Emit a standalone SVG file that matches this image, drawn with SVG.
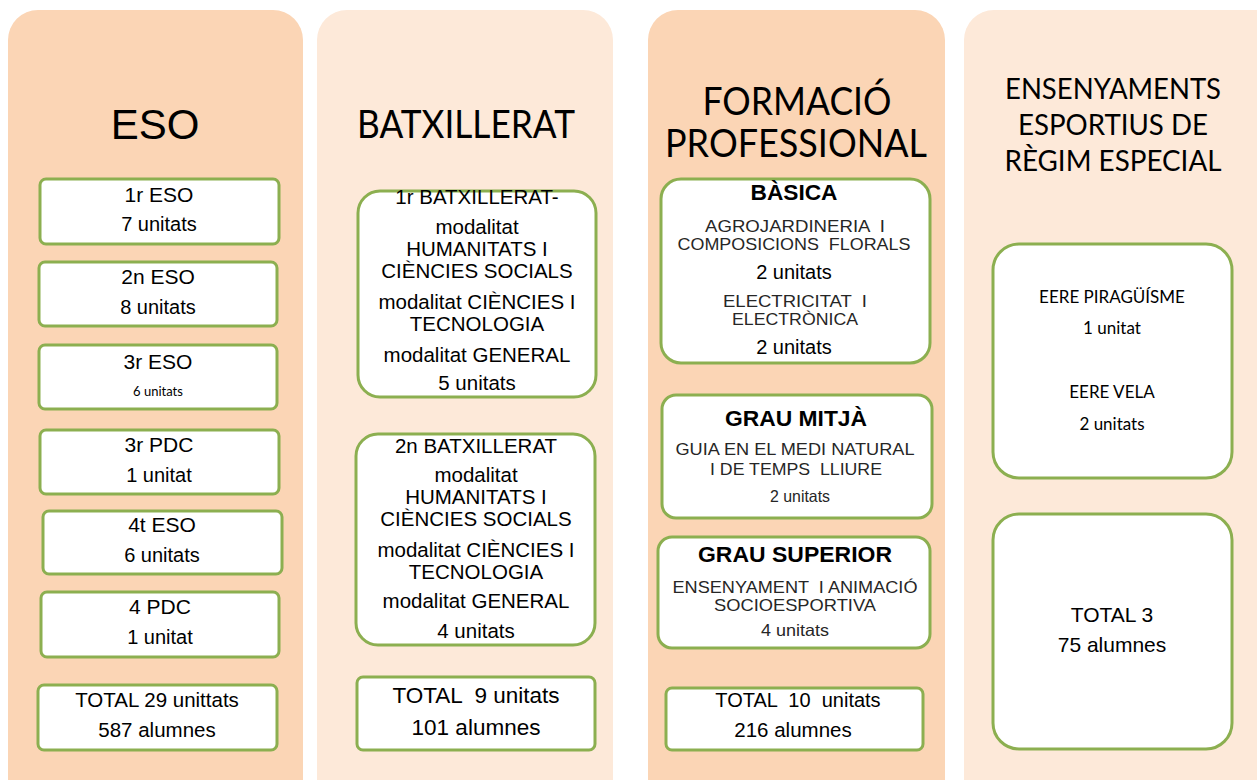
<svg xmlns="http://www.w3.org/2000/svg" width="1257" height="780" viewBox="0 0 1257 780">
<style>
.colA{fill:#FBD5B5}
.colB{fill:#FDE9D9}
.box{fill:#FFFFFF;stroke:#8CAF50;stroke-width:3}
.t{font-family:"Liberation Sans",Arial,sans-serif;fill:#000;text-anchor:middle}
.c{font-family:Lato,"Open Sans",sans-serif;fill:#000;text-anchor:middle}
.f20{font-size:20px}
.f21{font-size:21px}
.f22{font-size:22.5px}
.bx{font-size:20.5px}
.sm{font-size:16.5px;fill:#262626}
.b{font-weight:bold;font-size:22.5px}
</style>
<rect width="1257" height="780" fill="#FFFFFF"/>

<g id="col-eso">
<rect class="colA" x="8" y="10" width="295" height="800" rx="30"/>
<text class="t" x="155" y="139" font-size="42">ESO</text>
</g>
<g id="col-batx">
<rect class="colB" x="317" y="10" width="296" height="800" rx="30"/>
<text class="c" x="466" y="138" font-size="38" textLength="218" lengthAdjust="spacingAndGlyphs">BATXILLERAT</text>
</g>
<g id="col-fp">
<rect class="colA" x="648" y="10" width="297" height="800" rx="30"/>
<text class="c" x="797" y="115" font-size="38" textLength="189" lengthAdjust="spacingAndGlyphs">FORMACIÓ</text>
<text class="c" x="796" y="157" font-size="38" textLength="262" lengthAdjust="spacingAndGlyphs">PROFESSIONAL</text>
</g>
<g id="col-eere">
<rect class="colB" x="964" y="10" width="330" height="800" rx="30"/>
<text class="c" x="1113" y="99" font-size="29" textLength="216" lengthAdjust="spacingAndGlyphs">ENSENYAMENTS</text>
<text class="c" x="1113" y="135" font-size="29" textLength="190" lengthAdjust="spacingAndGlyphs">ESPORTIUS DE</text>
<text class="c" x="1113" y="171" font-size="29" textLength="217" lengthAdjust="spacingAndGlyphs">RÈGIM ESPECIAL</text>
</g>

<g id="eso-1">
<rect class="box" x="40" y="179" width="239" height="65" rx="6"/>
<text class="t f21" x="159" y="202">1r ESO</text>
<text class="t f20" x="159" y="231">7 unitats</text>
</g>
<g id="eso-2">
<rect class="box" x="39" y="262" width="238" height="64" rx="6"/>
<text class="t f21" x="158" y="284">2n ESO</text>
<text class="t f20" x="158" y="314">8 unitats</text>
</g>
<g id="eso-3">
<rect class="box" x="39" y="345" width="238" height="64" rx="6"/>
<text class="t f21" x="158" y="369">3r ESO</text>
<text class="c" x="158" y="396" font-size="13" fill="#222">6 unitats</text>
</g>
<g id="pdc-3">
<rect class="box" x="40" y="430" width="239" height="64" rx="6"/>
<text class="t f21" x="159" y="452">3r PDC</text>
<text class="t f20" x="159" y="482">1 unitat</text>
</g>
<g id="eso-4">
<rect class="box" x="43" y="511" width="239" height="63" rx="6"/>
<text class="t f21" x="162" y="532">4t ESO</text>
<text class="t f20" x="162" y="562">6 unitats</text>
</g>
<g id="pdc-4">
<rect class="box" x="41" y="592" width="238" height="65" rx="6"/>
<text class="t f21" x="160" y="614">4 PDC</text>
<text class="t f20" x="160" y="644">1 unitat</text>
</g>
<g id="eso-total">
<rect class="box" x="38" y="685" width="239" height="65" rx="6"/>
<text class="t" x="157" y="707" font-size="20.5">TOTAL 29 unittats</text>
<text class="t" x="157" y="737" font-size="20.5">587 alumnes</text>
</g>

<g id="batx-1">
<rect class="box" x="358" y="191" width="238" height="206" rx="22"/>
<text class="t bx" x="477" y="204">1r BATXILLERAT-</text>
<text class="t bx" x="477" y="234">modalitat</text>
<text class="t bx" x="477" y="256">HUMANITATS I</text>
<text class="t bx" x="477" y="278">CIÈNCIES SOCIALS</text>
<text class="t bx" x="477" y="309">modalitat CIÈNCIES I</text>
<text class="t bx" x="477" y="331">TECNOLOGIA</text>
<text class="t bx" x="477" y="362">modalitat GENERAL</text>
<text class="t bx" x="477" y="390">5 unitats</text>
</g>
<g id="batx-2">
<rect class="box" x="356" y="434" width="239" height="211" rx="22"/>
<text class="t bx" x="476" y="453">2n BATXILLERAT</text>
<text class="t bx" x="476" y="482">modalitat</text>
<text class="t bx" x="476" y="504">HUMANITATS I</text>
<text class="t bx" x="476" y="526">CIÈNCIES SOCIALS</text>
<text class="t bx" x="476" y="557">modalitat CIÈNCIES I</text>
<text class="t bx" x="476" y="579">TECNOLOGIA</text>
<text class="t bx" x="476" y="608">modalitat GENERAL</text>
<text class="t bx" x="476" y="638">4 unitats</text>
</g>
<g id="batx-total">
<rect class="box" x="357" y="677" width="238" height="73" rx="6"/>
<text class="t f22" x="476" y="703" xml:space="preserve">TOTAL  9 unitats</text>
<text class="t f22" x="476" y="735">101 alumnes</text>
</g>

<g id="fp-basica">
<rect class="box" x="661" y="179" width="269" height="184" rx="20"/>
<text class="t b" x="794" y="200" textLength="87" lengthAdjust="spacingAndGlyphs">BÀSICA</text>
<text class="t sm" x="795" y="232" textLength="180" lengthAdjust="spacingAndGlyphs" xml:space="preserve">AGROJARDINERIA  I</text>
<text class="t sm" x="794" y="250" textLength="233" lengthAdjust="spacingAndGlyphs" xml:space="preserve">COMPOSICIONS  FLORALS</text>
<text class="t f20" x="794" y="279">2 unitats</text>
<text class="t sm" x="795" y="307" textLength="144" lengthAdjust="spacingAndGlyphs" xml:space="preserve">ELECTRICITAT  I</text>
<text class="t sm" x="795" y="325" textLength="126" lengthAdjust="spacingAndGlyphs">ELECTRÒNICA</text>
<text class="t f20" x="794" y="354">2 unitats</text>
</g>
<g id="fp-mitja">
<rect class="box" x="662" y="395" width="270" height="123" rx="14"/>
<text class="t b" x="796" y="426" textLength="142" lengthAdjust="spacingAndGlyphs">GRAU MITJÀ</text>
<text class="t sm" x="795" y="455" textLength="239" lengthAdjust="spacingAndGlyphs">GUIA EN EL MEDI NATURAL</text>
<text class="t sm" x="796" y="475" textLength="172" lengthAdjust="spacingAndGlyphs" xml:space="preserve">I DE TEMPS  LLIURE</text>
<text class="t sm" x="800" y="502" textLength="60" lengthAdjust="spacingAndGlyphs">2 unitats</text>
</g>
<g id="fp-superior">
<rect class="box" x="658" y="537" width="272" height="111" rx="14"/>
<text class="t b" x="795" y="562" textLength="194" lengthAdjust="spacingAndGlyphs">GRAU SUPERIOR</text>
<text class="t sm" x="795" y="593" textLength="245" lengthAdjust="spacingAndGlyphs" xml:space="preserve">ENSENYAMENT  I ANIMACIÓ</text>
<text class="t sm" x="795" y="611" textLength="162" lengthAdjust="spacingAndGlyphs">SOCIOESPORTIVA</text>
<text class="t sm" x="795" y="636" textLength="68" lengthAdjust="spacingAndGlyphs">4 unitats</text>
</g>
<g id="fp-total">
<rect class="box" x="666" y="688" width="257" height="62" rx="6"/>
<text class="t f20" x="798" y="707" xml:space="preserve">TOTAL  10  unitats</text>
<text class="t" x="793" y="737" font-size="20.5">216 alumnes</text>
</g>

<g id="eere-list">
<rect class="box" x="993" y="244" width="239" height="234" rx="26"/>
<text class="c" x="1112" y="303" font-size="17">EERE PIRAGÜÍSME</text>
<text class="c" x="1112" y="334" font-size="17">1 unitat</text>
<text class="c" x="1112" y="398" font-size="17">EERE VELA</text>
<text class="c" x="1112" y="430" font-size="17">2 unitats</text>
</g>
<g id="eere-total">
<rect class="box" x="993" y="514" width="239" height="235" rx="26"/>
<text class="t f21" x="1112" y="622">TOTAL 3</text>
<text class="t f21" x="1112" y="652">75 alumnes</text>
</g>

<g id="connectors"></g>
</svg>
